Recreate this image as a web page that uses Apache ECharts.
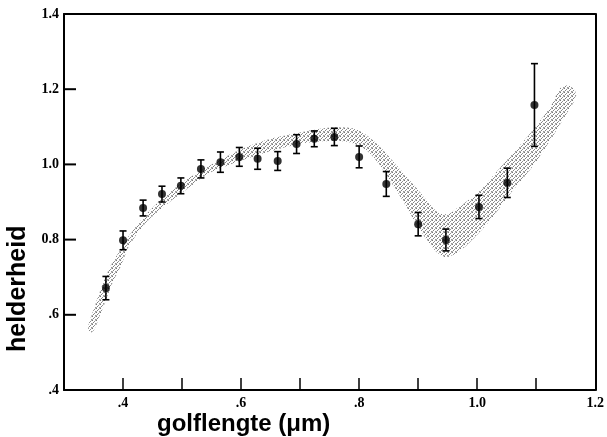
<!DOCTYPE html>
<html>
<head>
<meta charset="utf-8">
<script src="https://cdn.jsdelivr.net/npm/echarts@6/dist/echarts.min.js"></script>
<style>
html,body{margin:0;padding:0;background:#fff;}
#chart{width:607px;height:437px;}
</style>
</head>
<body>
<div id="chart"></div>
<script>
// Measured points (wavelength in µm, brightness, error)
const pointX = [0.371,0.400,0.434,0.466,0.498,0.532,0.565,0.597,0.628,0.662,0.694,0.724,0.758,0.800,0.846,0.900,0.947,1.003,1.051,1.097];
const pointY = [0.671,0.798,0.884,0.921,0.943,0.988,1.006,1.020,1.015,1.009,1.054,1.068,1.073,1.020,0.948,0.841,0.799,0.887,0.951,1.158];
const pointErr = [0.031,0.025,0.021,0.021,0.021,0.024,0.027,0.025,0.028,0.025,0.025,0.021,0.023,0.029,0.033,0.031,0.029,0.031,0.039,0.110];

// Model band: upper edge (left to right) and lower edge (right to left)
const bandUpperX = [0.341,0.352,0.364,0.378,0.395,0.410,0.427,0.450,0.500,0.550,0.600,0.650,0.700,0.750,0.780,0.800,0.830,0.866,0.900,0.933,0.950,0.962,1.000,1.046,1.090,1.124,1.141,1.156];
const bandUpperY = [0.568,0.622,0.675,0.728,0.772,0.810,0.845,0.885,0.952,1.000,1.040,1.068,1.085,1.098,1.098,1.090,1.055,0.993,0.932,0.873,0.868,0.879,0.924,1.004,1.083,1.153,1.203,1.210];
const bandLowerX = [1.168,1.148,1.102,1.057,1.018,0.979,0.960,0.945,0.928,0.900,0.866,0.832,0.810,0.780,0.750,0.700,0.650,0.600,0.550,0.500,0.450,0.433,0.410,0.396,0.382,0.371,0.360,0.351,0.345];
const bandLowerY = [1.185,1.126,1.012,0.924,0.844,0.780,0.760,0.754,0.772,0.834,0.924,1.004,1.040,1.060,1.062,1.055,1.035,1.010,0.980,0.925,0.862,0.834,0.782,0.728,0.684,0.639,0.595,0.560,0.552];

// Tick labels
const xTickValues = [0.4,0.6,0.8,1.0,1.2];
const xTickLabels = ['.4','.6','.8','1.0','1.2'];
const yTickValues = [0.4,0.6,0.8,1.0,1.2,1.4];
const yTickLabels = ['.4','.6','0.8','1.0','1.2','1.4'];
const xTitle = 'golflengte (\u03bcm)';
const yTitle = 'helderheid';
const X_MIN = 0.3, X_MAX = 1.2, Y_MIN = 0.4, Y_MAX = 1.4;

function lookup(vals, labels, v){
  for (let i=0;i<vals.length;i++){ if (Math.abs(vals[i]-v)<1e-6) return labels[i]; }
  return '';
}

// stipple pattern (4x4 scattered dots)
const pat = document.createElement('canvas');
pat.width = 4; pat.height = 4;
const pctx = pat.getContext('2d');
pctx.fillStyle = '#ffffff'; pctx.fillRect(0,0,4,4);
const dots = [[0,0,'#787878'],[2,1,'#909090'],[1,2,'#808080'],[3,3,'#989898'],[3,0,'#b8b8b8'],[0,3,'#b0b0b0']];
dots.forEach(d=>{pctx.fillStyle=d[2]; pctx.fillRect(d[0],d[1],1,1);});

const chart = echarts.init(document.getElementById('chart'), null, {renderer:'canvas'});

const errData = pointX.map((x,i)=>[x, pointY[i]-pointErr[i], pointY[i]+pointErr[i]]);
const ptData = pointX.map((x,i)=>[x, pointY[i]]);
const yTickData = yTickValues.map(v=>[X_MIN, v]);

const tickFont = {fontFamily:'Liberation Serif', fontWeight:'bold', fontSize:14, color:'#000'};

chart.setOption({
  animation:false,
  backgroundColor:'#fff',
  grid:{left:64, right:9, top:14, bottom:47, containLabel:false},
  xAxis:[{
    type:'value', min:X_MIN, max:X_MAX, interval:0.1, position:'bottom',
    axisLine:{show:true, onZero:false, lineStyle:{color:'#000', width:2}},
    axisTick:{show:true, inside:false, length:-12, lineStyle:{color:'#000', width:1.5}},
    axisLabel:Object.assign({margin:6, formatter:v=>lookup(xTickValues,xTickLabels,v)}, tickFont),
    splitLine:{show:false}
  },{
    type:'value', min:X_MIN, max:X_MAX, position:'top',
    axisLine:{show:true, onZero:false, lineStyle:{color:'#000', width:2}},
    axisTick:{show:false}, axisLabel:{show:false}, splitLine:{show:false}
  }],
  yAxis:[{
    type:'value', min:Y_MIN, max:Y_MAX, interval:0.2, position:'left',
    axisLine:{show:true, onZero:false, lineStyle:{color:'#000', width:2}},
    axisTick:{show:false},
    axisLabel:Object.assign({margin:5, formatter:v=>lookup(yTickValues,yTickLabels,v)}, tickFont),
    splitLine:{show:false}
  },{
    type:'value', min:Y_MIN, max:Y_MAX, interval:0.2, position:'right',
    axisLine:{show:true, onZero:false, lineStyle:{color:'#000', width:2}},
    axisTick:{show:false}, axisLabel:{show:false}, splitLine:{show:false}
  }],
  graphic:[
    {type:'text', left:157, top:412, style:{text:xTitle, font:'bold 24px "Liberation Sans", Arial, sans-serif', fill:'#000'}},
    {type:'text', x:6, y:352, rotation:Math.PI/2, originX:0, originY:0,
     style:{text:yTitle, font:'bold 25px "Liberation Sans", Arial, sans-serif', fill:'#000', textVerticalAlign:'top'}}
  ],
  series:[
    {
      type:'custom', xAxisIndex:0, yAxisIndex:0, silent:true, z:1,
      data:[[0]],
      renderItem:function(params, api){
        const pts = [];
        for (let i=0;i<bandUpperX.length;i++) pts.push(api.coord([bandUpperX[i], bandUpperY[i]]));
        for (let i=0;i<bandLowerX.length;i++) pts.push(api.coord([bandLowerX[i], bandLowerY[i]]));
        return {type:'polygon', shape:{points:pts, smooth:0.3}, style:{fill:{image:pat, repeat:'repeat'}, stroke:null}};
      }
    },
    {
      // inward ticks on the left axis
      type:'custom', xAxisIndex:0, yAxisIndex:0, silent:true, z:5,
      data:yTickData,
      renderItem:function(params, api){
        const p = api.coord([api.value(0), api.value(1)]);
        return {type:'rect', shape:{x:p[0], y:p[1]-1, width:12, height:2}, style:{fill:'#000'}};
      }
    },
    {
      type:'custom', xAxisIndex:0, yAxisIndex:0, silent:true, z:3,
      data:errData,
      renderItem:function(params, api){
        const lo = api.coord([api.value(0), api.value(1)]);
        const hi = api.coord([api.value(0), api.value(2)]);
        const w = 3.5;
        const st = {stroke:'#000', lineWidth:1.6};
        return {type:'group', children:[
          {type:'line', shape:{x1:lo[0], y1:lo[1], x2:hi[0], y2:hi[1]}, style:st},
          {type:'line', shape:{x1:lo[0]-w, y1:lo[1], x2:lo[0]+w, y2:lo[1]}, style:st},
          {type:'line', shape:{x1:hi[0]-w, y1:hi[1], x2:hi[0]+w, y2:hi[1]}, style:st}
        ]};
      }
    },
    {
      type:'scatter', xAxisIndex:0, yAxisIndex:0, z:4,
      data:ptData, symbol:'circle', symbolSize:8,
      itemStyle:{color:'#000'}
    }
  ]
});
</script>
</body>
</html>
